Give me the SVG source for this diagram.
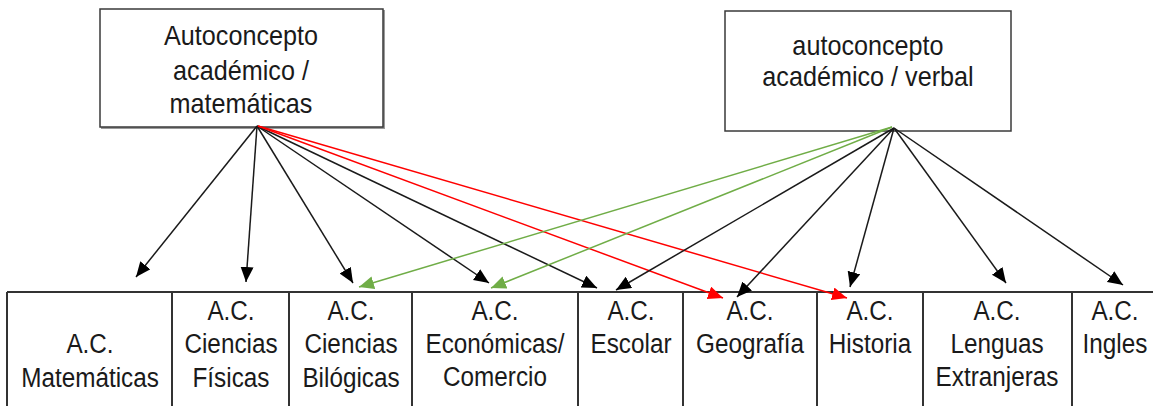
<svg xmlns="http://www.w3.org/2000/svg" width="1153" height="406" viewBox="0 0 1153 406">
  <style>
    .lbl { font-family: "Liberation Sans", Arial, sans-serif; fill: #1a1a1a; text-anchor: middle; }
    .top { font-size: 28px; }
    .cell { font-size: 27px; }
    .box { fill: #ffffff; stroke: #3a3a3a; stroke-width: 1.5; }
    .shadow { fill: none; stroke: #9a9a9a; stroke-width: 2; }
    .grid { stroke: #333333; stroke-width: 2; fill: none; }
    .k { stroke: #1a1a1a; stroke-width: 1.5; fill: none; marker-end: url(#headK); }
    .r { stroke: #ff0000; stroke-width: 1.5; fill: none; marker-end: url(#headR); }
    .g { stroke: #70ad47; stroke-width: 1.5; fill: none; marker-end: url(#headG); }
  </style>
  <defs>
    <marker id="headK" markerUnits="userSpaceOnUse" markerWidth="16" markerHeight="14" refX="15" refY="6.5" orient="auto">
      <path d="M0,0 L15,6.5 L0,13 z" fill="#000000"/>
    </marker>
    <marker id="headR" markerUnits="userSpaceOnUse" markerWidth="16" markerHeight="14" refX="15" refY="6.5" orient="auto">
      <path d="M0,0 L15,6.5 L0,13 z" fill="#ff0000"/>
    </marker>
    <marker id="headG" markerUnits="userSpaceOnUse" markerWidth="16" markerHeight="14" refX="15" refY="6.5" orient="auto">
      <path d="M0,0 L15,6.5 L0,13 z" fill="#70ad47"/>
    </marker>
  </defs>

  <rect width="1153" height="406" fill="#ffffff"/>

  <!-- source concepts -->
  <g id="ac-matematicas">
    <polyline class="shadow" points="384,10 384,128 101,128"/>
    <rect class="box" x="100" y="9" width="283" height="118"/>
    <text class="lbl top" transform="translate(241 45) scale(0.9 1)">Autoconcepto</text>
    <text class="lbl top" transform="translate(241 80) scale(0.9 1)">académico /</text>
    <text class="lbl top" transform="translate(241 113) scale(0.9 1)">matemáticas</text>
  </g>

  <g id="ac-verbal">
    <rect class="box" x="725" y="11" width="286" height="120"/>
    <text class="lbl top" transform="translate(868 55) scale(0.9 1)">autoconcepto</text>
    <text class="lbl top" transform="translate(868 86) scale(0.9 1)">académico / verbal</text>
  </g>

  <!-- table of academic self-concept areas -->
  <g id="table-grid">
    <line class="grid" x1="7" y1="292" x2="1153" y2="292"/>
    <line class="grid" x1="7" y1="292" x2="7" y2="406"/>
    <line class="grid" x1="172" y1="292" x2="172" y2="406"/>
    <line class="grid" x1="289" y1="292" x2="289" y2="406"/>
    <line class="grid" x1="412" y1="292" x2="412" y2="406"/>
    <line class="grid" x1="578" y1="292" x2="578" y2="406"/>
    <line class="grid" x1="683" y1="292" x2="683" y2="406"/>
    <line class="grid" x1="817" y1="292" x2="817" y2="406"/>
    <line class="grid" x1="923" y1="292" x2="923" y2="406"/>
    <line class="grid" x1="1072" y1="292" x2="1072" y2="406"/>
  </g>

  <g id="cell-matematicas">
    <text class="lbl cell" transform="translate(90 353) scale(0.9 1)">A.C.</text>
    <text class="lbl cell" transform="translate(90 387) scale(0.9 1)">Matemáticas</text>
  </g>
  <g id="cell-fisicas">
    <text class="lbl cell" transform="translate(231 320) scale(0.9 1)">A.C.</text>
    <text class="lbl cell" transform="translate(231 353) scale(0.9 1)">Ciencias</text>
    <text class="lbl cell" transform="translate(231 387) scale(0.9 1)">Físicas</text>
  </g>
  <g id="cell-biologicas">
    <text class="lbl cell" transform="translate(351 320) scale(0.9 1)">A.C.</text>
    <text class="lbl cell" transform="translate(351 353) scale(0.9 1)">Ciencias</text>
    <text class="lbl cell" transform="translate(351 387) scale(0.9 1)">Bilógicas</text>
  </g>
  <g id="cell-economicas">
    <text class="lbl cell" transform="translate(495 320) scale(0.9 1)">A.C.</text>
    <text class="lbl cell" transform="translate(495 353) scale(0.9 1)">Económicas/</text>
    <text class="lbl cell" transform="translate(495 386) scale(0.9 1)">Comercio</text>
  </g>
  <g id="cell-escolar">
    <text class="lbl cell" transform="translate(631 320) scale(0.9 1)">A.C.</text>
    <text class="lbl cell" transform="translate(631 353) scale(0.9 1)">Escolar</text>
  </g>
  <g id="cell-geografia">
    <text class="lbl cell" transform="translate(750 320) scale(0.9 1)">A.C.</text>
    <text class="lbl cell" transform="translate(750 353) scale(0.9 1)">Geografía</text>
  </g>
  <g id="cell-historia">
    <text class="lbl cell" transform="translate(870 320) scale(0.9 1)">A.C.</text>
    <text class="lbl cell" transform="translate(870 353) scale(0.9 1)">Historia</text>
  </g>
  <g id="cell-lenguas">
    <text class="lbl cell" transform="translate(997 320) scale(0.9 1)">A.C.</text>
    <text class="lbl cell" transform="translate(997 353) scale(0.9 1)">Lenguas</text>
    <text class="lbl cell" transform="translate(997 386) scale(0.9 1)">Extranjeras</text>
  </g>
  <g id="cell-ingles">
    <text class="lbl cell" transform="translate(1115 320) scale(0.9 1)">A.C.</text>
    <text class="lbl cell" transform="translate(1115 353) scale(0.9 1)">Ingles</text>
  </g>

  <!-- connectors -->
  <g id="connectors">
    <line class="k" x1="257" y1="126" x2="136" y2="277"/>
    <line class="k" x1="257" y1="126" x2="246" y2="282"/>
    <line class="k" x1="257" y1="126" x2="353" y2="283"/>
    <line class="k" x1="257" y1="126" x2="489" y2="283"/>
    <line class="k" x1="257" y1="126" x2="597" y2="288"/>
    <line class="r" x1="258" y1="126" x2="723" y2="298"/>
    <line class="r" x1="258" y1="126" x2="847" y2="298"/>

    <line class="g" x1="892" y1="127" x2="359" y2="287"/>
    <line class="g" x1="892" y1="127" x2="491" y2="288"/>
    <line class="k" x1="894" y1="128" x2="616" y2="290"/>
    <line class="k" x1="894" y1="128" x2="737" y2="297"/>
    <line class="k" x1="894" y1="128" x2="850" y2="287"/>
    <line class="k" x1="894" y1="128" x2="1006" y2="283"/>
    <line class="k" x1="894" y1="128" x2="1123" y2="285"/>
  </g>
</svg>
